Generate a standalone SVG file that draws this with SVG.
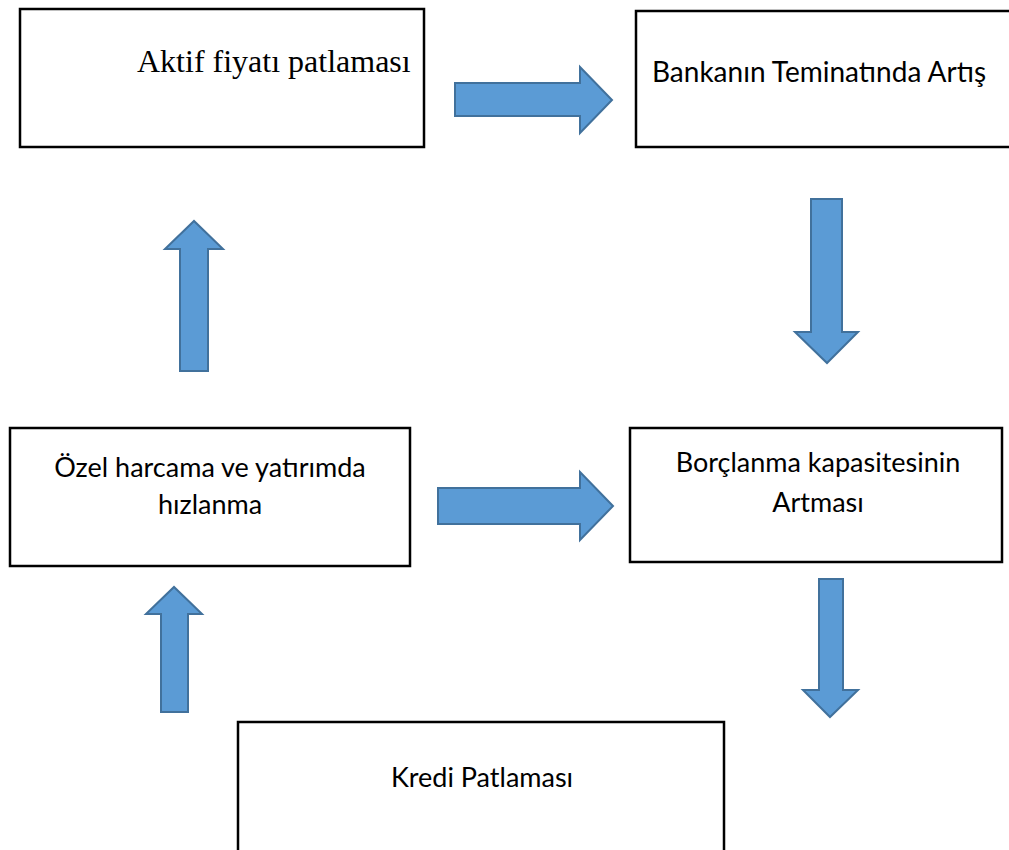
<svg xmlns="http://www.w3.org/2000/svg" width="1009" height="850" viewBox="0 0 1009 850">
<style>
.box{fill:#fff;stroke:#000;stroke-width:2.5}
.arr{fill:#5B9BD5;stroke:#41719C;stroke-width:2;stroke-linejoin:miter}
.t{font-family:Lato,"Open Sans",sans-serif;font-size:27px;fill:#000;text-anchor:middle}
.s{font-family:"Liberation Serif","Times New Roman",serif;font-size:32px;fill:#000}
</style>
<rect width="1009" height="850" fill="#fff"/>
<g id="connectors">
<path class="arr" d="M455,83 H580 V67 L612,100 L580,133 V116 H455 Z"/>
<path class="arr" d="M811,199 H842 V332 H858 L827,363 L795,332 H811 Z"/>
<path class="arr" d="M180,371 V249 H165 L194,221 L223,249 H208 V371 Z"/>
<path class="arr" d="M438,488 H580 V472 L613,506 L580,540 V524 H438 Z"/>
<path class="arr" d="M819,579 H843 V690 H858 L830,717 L803,690 H819 Z"/>
<path class="arr" d="M161,712 V614 H146 L174,587 L202,614 H188 V712 Z"/>
</g>
<g id="node-aktif">
<rect class="box" x="20" y="9" width="404" height="138"/>
<text class="s" x="137" y="72">Aktif fiyatı patlaması</text>
</g>
<g id="node-banka">
<rect class="box" x="636" y="11" width="400" height="136"/>
<text class="t" x="819" y="82" style="font-size:28px">Bankanın Teminatında Artış</text>
</g>
<g id="node-ozel">
<rect class="box" x="10" y="428" width="400" height="138"/>
<text class="t" x="210" y="477">Özel harcama ve yatırımda</text>
<text class="t" x="210" y="514">hızlanma</text>
</g>
<g id="node-borc">
<rect class="box" x="630" y="428" width="372" height="134"/>
<text class="t" x="818" y="472">Borçlanma kapasitesinin</text>
<text class="t" x="818" y="512">Artması</text>
</g>
<g id="node-kredi">
<rect class="box" x="238" y="722" width="486" height="140"/>
<text class="t" x="482" y="787">Kredi Patlaması</text>
</g>
</svg>
